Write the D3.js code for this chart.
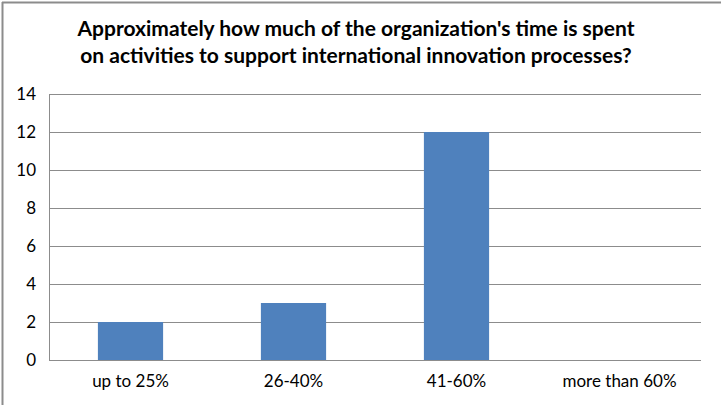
<!DOCTYPE html>
<html>
<head>
<meta charset="utf-8">
<script src="https://cdn.jsdelivr.net/npm/d3@7"></script>
<style>
  body { margin: 0; background: #fff; }
  svg text { font-family: Lato, "Open Sans", sans-serif; fill: #000; }
</style>
</head>
<body>
<div id="chart-div"></div>
<script>
// ------------------------- data
var categories = ["up to 25%", "26-40%", "41-60%", "more than 60%"];
var values = [2, 3, 12, 0];
var yTicks = [0, 2, 4, 6, 8, 10, 12, 14];
var titleLines = [
    "Approximately how much of the organization's time is spent",
    "on activities to support international innovation processes?"
];

function drawChart() {
    var svgWidth = 721;
    var svgHeight = 405;
    var plotLeft = 49, plotRight = 701, plotTop = 94, plotBottom = 360;

    var svg = d3.select('#chart-div').append("svg")
        .attr('width', svgWidth)
        .attr('height', svgHeight);

    // frame (only top and left edges show in the crop)
    svg.append("line").attr("x1", 2).attr("x2", svgWidth).attr("y1", 2.5).attr("y2", 2.5)
        .attr("stroke", "#8c8c8c").attr("stroke-width", 2);
    svg.append("line").attr("x1", 2.5).attr("x2", 2.5).attr("y1", 2).attr("y2", svgHeight)
        .attr("stroke", "#8c8c8c").attr("stroke-width", 2);

    // title
    svg.append("text")
        .attr("x", 356).attr("y", 36)
        .style("text-anchor", "middle")
        .style("font-weight", "bold")
        .style("font-size", "21px")
        .selectAll("tspan")
        .data(titleLines)
        .enter()
        .append("tspan")
        .attr("x", 356)
        .attr("dy", function(d, i) { return i === 0 ? 0 : 27; })
        .text(function(d) { return d; });

    var y = d3.scaleLinear()
        .domain([0, 14])
        .range([plotBottom, plotTop]);
    var x = d3.scaleBand()
        .domain(categories)
        .range([plotLeft, plotRight])
        .paddingInner(0.6)
        .paddingOuter(0.3);
    var xBand = d3.scaleBand()
        .domain(categories)
        .range([plotLeft, plotRight]);

    // gridlines
    svg.append("g")
        .selectAll("line")
        .data(yTicks.filter(function(d) { return d > 0; }))
        .enter()
        .append("line")
        .attr("x1", plotLeft).attr("x2", plotRight)
        .attr("y1", function(d) { return Math.round(y(d)) + 0.5; })
        .attr("y2", function(d) { return Math.round(y(d)) + 0.5; })
        .attr("stroke", "#8c8c8c");

    // bars
    svg.append("g")
        .selectAll("rect")
        .data(values)
        .enter()
        .append("rect")
        .attr("x", function(d, i) { return x(categories[i]); })
        .attr("y", function(d) { return y(d); })
        .attr("width", x.bandwidth())
        .attr("height", function(d) { return y(0) - y(d); })
        .attr("fill", "#4f81bd");

    // y axis
    var yAxis = svg.append("g")
        .attr("transform", "translate(" + plotLeft + ",0)")
        .call(d3.axisLeft(y).tickValues(yTicks).tickSize(0).tickPadding(13));
    yAxis.select(".domain").attr("stroke", "#8c8c8c").attr("d", "M0.5," + plotTop + "V" + plotBottom);
    yAxis.selectAll("text").style("font-size", "17px").attr("fill", "#000");

    // x axis
    var xAxis = svg.append("g")
        .attr("transform", "translate(0," + plotBottom + ")")
        .call(d3.axisBottom(xBand).tickSize(0).tickPadding(15));
    xAxis.select(".domain").attr("stroke", "#8c8c8c").attr("d", "M" + plotLeft + ",0.5H" + plotRight);
    xAxis.selectAll("text").style("font-size", "17px").attr("fill", "#000");
}

drawChart();
</script>
</body>
</html>
